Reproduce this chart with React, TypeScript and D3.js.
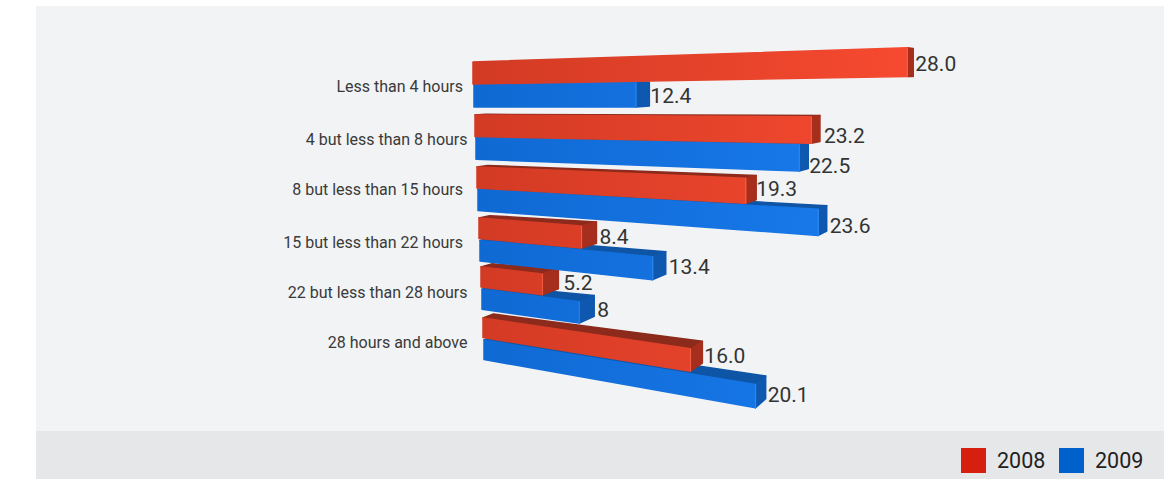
import React from "react";
import * as d3 from "d3";

// Survey answers per weekly-hours band, in percent
const categories = [
  "Less than 4 hours",
  "4 but less than 8 hours",
  "8 but less than 15 hours",
  "15 but less than 22 hours",
  "22 but less than 28 hours",
  "28 hours and above",
];
const values2008 = [28.0, 23.2, 19.3, 8.4, 5.2, 16.0];
const values2009 = [12.4, 22.5, 23.6, 13.4, 8, 20.1];
const labels2008 = ["28.0", "23.2", "19.3", "8.4", "5.2", "16.0"];
const labels2009 = ["12.4", "22.5", "23.6", "13.4", "8", "20.1"];
const years = ["2008", "2009"];

// Layout of the perspective scene
const W = 1164;
const H = 479;
const rows = d3.range(categories.length);
const rowTop = d3.scaleLinear().domain(rows).range([62, 115, 167, 218, 267, 318]);
const rowLeft = d3.scaleLinear().domain([0, 5]).range([473, 483]);
const barHeight = d3.scaleLinear().domain([0, 5]).range([22, 19.5]);
const seriesGap = d3.scaleLinear().domain([0, 5]).range([23, 22]);
// Pixels per percent at the left end of each row, and how fast that grows along the bar
const rowGain = [11.6, 11.2, 12.07, 11.2, 11.2, 11.2];
const rowForeshorten = [0.009, 0.0098, 0.0069, 0.0098, 0.0098, 0.0085];
const lengthVanish = { x: -930, y: 108 };
const depthVanish = { x: 1128, y: 75 };
const depth = 0.0273;
const leftDepth = 0.6;
const labelAnchor = [463, 467.5, 463, 463, 467.5, 467.5];
const labelBaseline = [91.5, 144.5, 194.5, 247.5, 297.5, 347.5];
const nudge2008 = [[2, -6], [4, 2], [0, -4], [3, 1], [5, 1], [2, 0]];
const nudge2009 = [[1, -3], [1, 5], [3, 2], [3, 0], [3, 1], [2, 3.5]];

type P = [number, number];

const toBack = ([x, y]: P, share = 1): P => [
  x + (depthVanish.x - x) * depth * share,
  y + (depthVanish.y - y) * depth * share,
];

// A point on a bar's edge: edges run from the left end towards the shared vanishing point
function along(row: number, left: number, yLeft: number, v: number): P {
  const valueScale = d3.scaleLinear().domain([0, 1]).range([0, rowGain[row]]);
  const len = valueScale(v) / (1 - rowForeshorten[row] * v);
  const slope = (yLeft - lengthVanish.y) / (left - lengthVanish.x);
  return [left + len, yLeft + slope * len];
}

const pathOf = (pts: P[]) => d3.line()(pts)! + "Z";

const palette = {
  red: { from: "#d23a24", to: "#f64a30", side: "#a52e1c", top: "#8c2a1b", edge: "#fb6a50" },
  blue: { from: "#0f69d3", to: "#1a7cee", side: "#0f58b0", top: "#0f55a6", edge: "#3a90f2" },
};

function Bar({ row, offset, v, text, nudge, tone }: {
  row: number; offset: number; v: number; text: string; nudge: number[]; tone: "red" | "blue";
}) {
  const c = palette[tone];
  const left = rowLeft(row) + offset;
  const yTop = rowTop(row) + offset * seriesGap(row);
  const yBot = yTop + barHeight(row);
  const lt: P = [left, yTop];
  const lb: P = [left, yBot];
  const rt = along(row, left, yTop, v);
  const rb = along(row, left, yBot, v);
  const rtB = toBack(rt);
  const rbB = toBack(rb);
  const ltB = toBack(lt, leftDepth);
  const hasTop = yTop > depthVanish.y;
  const soft = { strokeWidth: 1.5, strokeLinejoin: "round" as const };
  return (
    <g>
      {hasTop && (
        <path d={pathOf([lt, ltB, rtB, rt])} fill={c.top} stroke={c.top} {...soft} />
      )}
      <path d={pathOf([rt, rtB, rbB, rb])} fill={c.side} stroke={c.side} {...soft} />
      <path d={pathOf([lt, rt, rb, lb])} fill={`url(#front-${tone})`} stroke={`url(#front-${tone})`} {...soft} />
      <line x1={rt[0]} y1={rt[1]} x2={rb[0]} y2={rb[1]} stroke={c.edge} strokeWidth={1} opacity={0.7} />
      <text x={rtB[0] + nudge[0]} y={rbB[1] + nudge[1]} fontSize={21} fill="#333">
        {text}
      </text>
    </g>
  );
}

export default function App() {
  const order = [...rows].reverse();
  return (
    <svg
      width={W}
      height={H}
      viewBox={`0 0 ${W} ${H}`}
      style={{ position: "absolute", left: 0, top: 0 }}
      fontFamily="Roboto, sans-serif"
    >
      <defs>
        {(["red", "blue"] as const).map((tone) => (
          <linearGradient key={tone} id={`front-${tone}`} gradientUnits="userSpaceOnUse" x1={470} x2={910} y1={0} y2={0}>
            <stop offset="0" stopColor={palette[tone].from} />
            <stop offset="1" stopColor={palette[tone].to} />
          </linearGradient>
        ))}
      </defs>
      <rect width={W} height={H} fill="#fff" />
      <rect x={36} y={6} width={W - 36} height={425} fill="#f1f3f5" />
      <rect x={36} y={431} width={W - 36} height={48} fill="#e6e7e9" />

      {order.map((r) => (
        <g key={r}>
          <Bar row={r} offset={1} v={values2009[r]} text={labels2009[r]} nudge={nudge2009[r]} tone="blue" />
          <Bar row={r} offset={0} v={values2008[r]} text={labels2008[r]} nudge={nudge2008[r]} tone="red" />
        </g>
      ))}

      {categories.map((name, r) => (
        <text key={name} x={labelAnchor[r]} y={labelBaseline[r]} textAnchor="end" fontSize={16} fill="#3a3a3a">
          {name}
        </text>
      ))}

      {years.map((year, i) => (
        <g key={year} transform={`translate(${961 + i * 98},448)`}>
          <rect width={25} height={25} fill={i === 0 ? "#d71f10" : "#0060cc"} />
          <text x={36} y={20} fontSize={21.5} fill="#222">
            {year}
          </text>
        </g>
      ))}
    </svg>
  );
}
